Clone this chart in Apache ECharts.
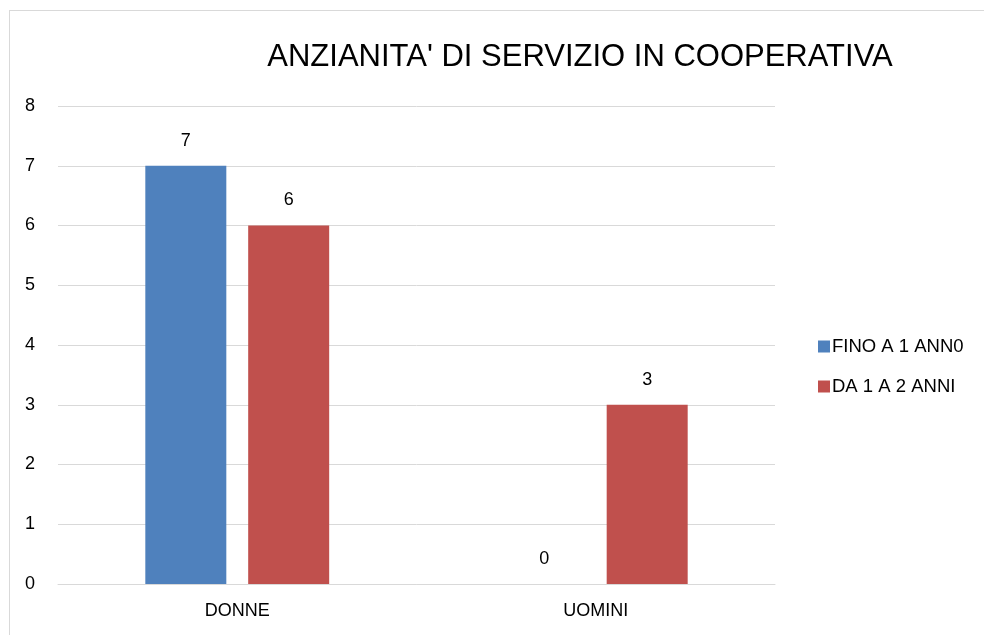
<!DOCTYPE html>
<html>
<head>
<meta charset="utf-8">
<script src="https://cdn.jsdelivr.net/npm/echarts@6/dist/echarts.min.js"></script>
<style>
html,body{margin:0;padding:0;background:#fff;}
#wrap{position:relative;width:984px;height:635px;overflow:hidden;}
#border{position:absolute;left:9px;top:10px;width:1000px;height:700px;border:1px solid #d9d9d9;box-sizing:border-box;}
#main{position:absolute;left:0;top:0;width:984px;height:635px;}
</style>
</head>
<body>
<div id="wrap"><div id="border"></div><div id="main"></div></div>
<script>
const categories = ['DONNE', 'UOMINI'];
const seriesNames = ['FINO A 1 ANN0', 'DA 1 A 2 ANNI'];
const fino1Anno = [7, 0];
const da1a2Anni = [6, 3];
const yTicks = [0, 1, 2, 3, 4, 5, 6, 7, 8];

const font = "Liberation Sans, Arial, sans-serif";
const chart = echarts.init(document.getElementById('main'), null, {renderer: 'canvas'});
chart.setOption({
  animation: false,
  title: {
    text: "ANZIANITA' DI SERVIZIO IN COOPERATIVA",
    left: 575, top: 37, textAlign: 'center',
    textStyle: {fontFamily: font, fontSize: 31, fontWeight: 'normal', color: '#000'}
  },
  legend: {
    orient: 'vertical', left: 813, top: 332,
    itemWidth: 12, itemHeight: 12, itemGap: 21,
    icon: 'rect',
    textStyle: {fontFamily: font, fontSize: 18.5, color: '#000', padding: [0,0,0,-3]},
    data: seriesNames
  },
  grid: {left: 58, right: 209, top: 106, bottom: 51, containLabel: false},
  xAxis: {
    type: 'category', data: categories,
    axisLine: {show: true, lineStyle: {color: '#d9d9d9', width: 1}},
    axisTick: {show: false},
    axisLabel: {fontFamily: font, fontSize: 18, color: '#000', margin: 18}
  },
  yAxis: {
    type: 'value', min: yTicks[0], max: yTicks[yTicks.length-1], interval: 1,
    axisLine: {show: false}, axisTick: {show: false},
    axisLabel: {fontFamily: font, fontSize: 18, color: '#000', margin: 28, align: 'center'},
    splitLine: {lineStyle: {color: '#d9d9d9', width: 1}}
  },
  series: [
    {name: seriesNames[0], type: 'bar', data: fino1Anno, barWidth: 81, barGap: '27%',
     itemStyle: {color: '#4f81bd'},
     label: {show: true, position: 'top', distance: 16, fontFamily: font, fontSize: 18, color: '#000'}},
    {name: seriesNames[1], type: 'bar', data: da1a2Anni, barWidth: 81,
     itemStyle: {color: '#c0504d'},
     label: {show: true, position: 'top', distance: 16, fontFamily: font, fontSize: 18, color: '#000'}}
  ]
});
</script>
</body>
</html>
